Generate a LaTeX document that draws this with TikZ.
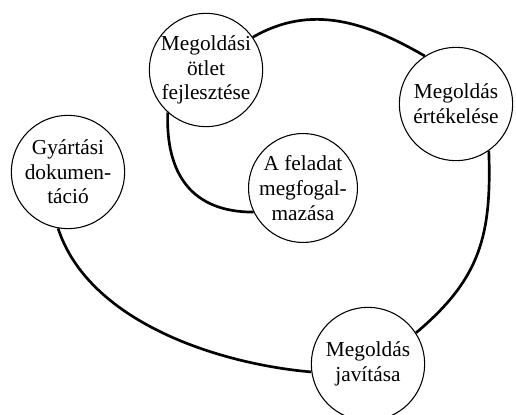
\documentclass[tikz,border=0pt]{standalone}
\usepackage{fontspec}
\setmainfont{Liberation Serif}
\usetikzlibrary{positioning}

\begin{document}
\begin{tikzpicture}[x=0.75pt, y=0.75pt]
    % Define styles
    \tikzset{
        stage/.style={circle, draw=black, line width=0.8pt, fill=white, minimum size=85pt, inner sep=0pt, align=center, font=\fontsize{16}{18.5}\selectfont},
        smallstage/.style={stage, minimum size=77pt},
        flow/.style={line width=2pt}
    }
    \clip (0,0) rectangle (516,414);

    % Nodes
    \node[smallstage] (feladat) at (303,226) {A feladat\\megfogal-\\mazása};
    \node[stage] (otlet) at (206,344) {Megoldási\\ötlet\\fejlesztése};
    \node[stage] (ertekeles) at (456,310) {Megoldás\\értékelése};
    \node[stage] (javitas) at (368,50) {Megoldás\\javítása};
    \node[stage] (gyartas) at (68,242) {Gyártási\\dokumen-\\táció};

    % Curves
    \draw[flow] (otlet.228) to[out=-92, in=180, looseness=1.2] (feladat.206);
    \draw[flow] (otlet.35) to[out=30, in=150] (ertekeles.123);
    \draw[flow] (ertekeles.-55) to[out=-88, in=40, looseness=1.1] (javitas.33);
    \draw[flow] (javitas.188) to[out=175, in=-72, looseness=0.85] (gyartas.260);
\end{tikzpicture}
\end{document}
